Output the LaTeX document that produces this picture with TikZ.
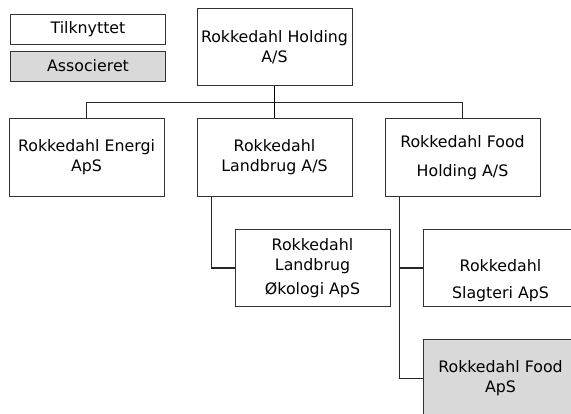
\documentclass[tikz,border=0pt]{standalone}
\usepackage{fontspec}
\setmainfont{DejaVu Sans}
\usetikzlibrary{positioning, calc}
\definecolor{assocgray}{RGB}{217,217,217}

\begin{document}
\begin{tikzpicture}[
  x=1pt, y=-1pt,
  orgbox/.style={draw=black!80, line width=1pt, minimum width=155pt,
                 minimum height=77.5pt, inner sep=0pt, align=center,
                 font=\fontsize{15.8}{20}\selectfont, fill=white},
  legendbox/.style={orgbox, minimum height=30pt},
  boxtext/.style={align=center, inner sep=0pt, font=\fontsize{15.8}{20}\selectfont},
  link/.style={line width=1.2pt, draw=black!85},
  trunk/.style={line width=1.8pt, draw=black},
  node distance=32pt and 32pt
]
  \useasboundingbox (0,0) rectangle (571,413);

  % Legend
  \node[legendbox] (tilk) at (88,29) {Tilknyttet};
  \node[legendbox, fill=assocgray, below=6pt of tilk] (assoc) {Associeret};

  % Nodes
  \node[orgbox] (holding) at (274.5,47) {Rokkedahl Holding\\A/S};
  \node[orgbox, below=of holding] (landbrug) {Rokkedahl\\Landbrug A/S};
  \node[orgbox, left=of landbrug] (energi) {Rokkedahl Energi\\ApS};
  \node[orgbox, right=of landbrug] (foodh) {Rokkedahl Food\\[9pt]Holding A/S};
  \node[orgbox, below right=32pt and 38pt of landbrug.south west] (okologi)
    {Rokkedahl\\Landbrug\\[4pt]\O{}kologi ApS};
  \node[orgbox, below right=32pt and 38pt of foodh.south west] (slagteri) {};
  \node[boxtext] (slagteritxt) at ($(slagteri.center)+(0,12.5)$)
    {Rokkedahl\\[7pt]Slagteri ApS};
  \node[orgbox, fill=assocgray, below=of slagteri] (foodaps) {Rokkedahl Food\\ApS};

  % Connectors
  \coordinate (bus) at ($(holding.south)+(0,16)$);
  \coordinate (lbdrop) at ($(landbrug.south west)+(15,0)$);
  \coordinate (fhdrop) at ($(foodh.south west)+(15,0)$);
  \draw[link] (energi.north) |- (bus) -| (foodh.north);
  \draw[trunk] (holding.south) -- (landbrug.north);
  \draw[link] (lbdrop) |- (okologi.west);
  \draw[link] (fhdrop) |- (slagteri.west);
  \draw[link] (fhdrop) |- (foodaps.west);
\end{tikzpicture}
\end{document}
